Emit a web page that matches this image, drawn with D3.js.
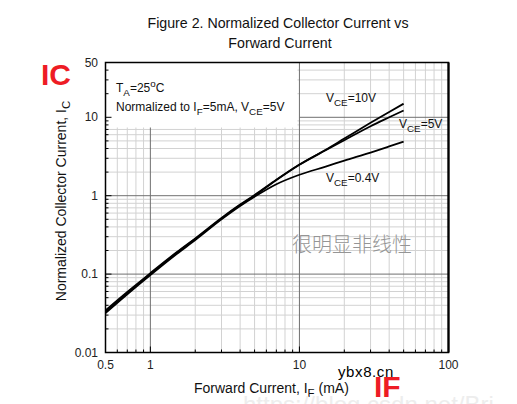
<!DOCTYPE html>
<html>
<head>
<meta charset="utf-8">
<script src="https://cdn.jsdelivr.net/npm/d3@7"></script>
<style>
  html, body { margin: 0; padding: 0; background: #fff; }
  svg { display: block; font-family: 'Liberation Sans', Arial, sans-serif; }
</style>
</head>
<body>
<svg id="chart" width="517" height="404"></svg>
<script>
// forward current IF (mA)
const current = [0.5, 0.7, 1, 1.5, 2, 3, 4, 5, 7, 10, 15, 20, 30, 40, 50];
// normalized collector current, one array per VCE
const vce10 = [0.0343, 0.059, 0.103, 0.19, 0.285, 0.52, 0.77, 1.02, 1.6, 2.5, 3.85, 5.35, 8.5, 11.7, 14.9];
const vce5 = [0.033, 0.057, 0.1, 0.186, 0.28, 0.51, 0.76, 1.0, 1.58, 2.48, 3.8, 5.1, 7.7, 10.0, 12.2];
const vce04 = [0.0318, 0.0552, 0.097, 0.18, 0.272, 0.5, 0.74, 0.97, 1.4, 1.85, 2.35, 2.8, 3.55, 4.25, 4.9];

const xTicks = [0.5, 1, 10, 100];
const xTickLabels = ['0.5', '1', '10', '100'];
const yTicks = [0.01, 0.1, 1, 10, 50];
const yTickLabels = ['0.01', '0.1', '1', '10', '50'];

const svg = d3.select('#chart');

const plotLeft = 105.5, plotRight = 448.5, plotTop = 62.5, plotBottom = 352.5;
const x = d3.scaleLog().domain([0.5, 100]).range([plotLeft, plotRight]);
const y = d3.scaleLog().domain([0.01, 50]).range([plotBottom, plotTop]);

// grid values
const xMinor = [], yMinor = [];
[0.1, 1, 10].forEach(d => {
  for (let k = 2; k <= 9; k++) {
    const v = +(d * k).toFixed(3);
    if (v > 0.5 && v < 100 && v !== 1 && v !== 10) xMinor.push(v);
  }
});
[0.01, 0.1, 1, 10].forEach(d => {
  for (let k = 2; k <= 9; k++) {
    const v = +(d * k).toFixed(3);
    if (v < 50) yMinor.push(v);
  }
});
const xMajor = [1, 10];
const yMajor = [0.1, 1, 10];

const grid = svg.append('g');
grid.selectAll('.vx')
  .data(xMinor)
  .enter()
  .append('line')
  .attr('x1', d => x(d)).attr('x2', d => x(d))
  .attr('y1', plotTop).attr('y2', plotBottom)
  .attr('stroke', '#d2d2d2').attr('stroke-width', 1);
grid.selectAll('.hy')
  .data(yMinor)
  .enter()
  .append('line')
  .attr('x1', plotLeft).attr('x2', plotRight)
  .attr('y1', d => y(d)).attr('y2', d => y(d))
  .attr('stroke', '#d2d2d2').attr('stroke-width', 1);

// white box behind the notes (grid is hidden there)
svg.append('rect')
  .attr('x', plotLeft)
  .attr('y', plotTop)
  .attr('width', x(10) - plotLeft - 2)
  .attr('height', 65)
  .attr('fill', '#fff');

svg.selectAll('.vmaj')
  .data(xMajor)
  .enter()
  .append('line')
  .attr('x1', d => x(d)).attr('x2', d => x(d))
  .attr('y1', d => (d === 1 ? plotTop + 65 : plotTop)).attr('y2', plotBottom)
  .attr('stroke', '#707070').attr('stroke-width', 1);
svg.selectAll('.hmaj')
  .data(yMajor)
  .enter()
  .append('line')
  .attr('x1', d => (d === 10 ? x(10) : plotLeft)).attr('x2', plotRight)
  .attr('y1', d => y(d)).attr('y2', d => y(d))
  .attr('stroke', '#707070').attr('stroke-width', 1);

// inward ticks on left and bottom axes
svg.selectAll('.ty')
  .data(yMinor.concat(yTicks))
  .enter()
  .append('line')
  .attr('x1', plotLeft).attr('x2', d => plotLeft + (yTicks.includes(d) ? 6 : 3))
  .attr('y1', d => y(d)).attr('y2', d => y(d))
  .attr('stroke', '#000').attr('stroke-width', 1);
svg.selectAll('.tx')
  .data(xMinor.concat(xTicks))
  .enter()
  .append('line')
  .attr('x1', d => x(d)).attr('x2', d => x(d))
  .attr('y1', plotBottom).attr('y2', d => plotBottom - (xTicks.includes(d) ? 6 : 3))
  .attr('stroke', '#000').attr('stroke-width', 1);

// frame
svg.append('rect')
  .attr('x', plotLeft).attr('y', plotTop)
  .attr('width', plotRight - plotLeft).attr('height', plotBottom - plotTop)
  .attr('fill', 'none').attr('stroke', '#000').attr('stroke-width', 1.5);
svg.append('line')
  .attr('x1', plotRight).attr('x2', plotRight).attr('y1', plotTop).attr('y2', plotBottom)
  .attr('stroke', '#000').attr('stroke-width', 2.2);

// tick labels
svg.selectAll('.xl')
  .data(xTicks)
  .enter()
  .append('text')
  .attr('x', d => x(d))
  .attr('y', 369)
  .attr('text-anchor', 'middle')
  .attr('font-size', 12)
  .attr('fill', '#222')
  .text((d, i) => xTickLabels[i]);
svg.selectAll('.yl')
  .data(yTicks)
  .enter()
  .append('text')
  .attr('x', 98)
  .attr('y', d => y(d) + 4)
  .attr('text-anchor', 'end')
  .attr('font-size', 12)
  .attr('fill', '#222')
  .text((d, i) => yTickLabels[i]);

// curves
const line = d3.line()
  .x((d, i) => x(current[i]))
  .y(d => y(d))
  .curve(d3.curveMonotoneX);

[vce10, vce5, vce04].forEach(series => {
  svg.append('path')
    .datum(series)
    .attr('d', line)
    .attr('fill', 'none')
    .attr('stroke', '#000')
    .attr('stroke-width', 1.8);
});

// helper for text with subscripts / superscripts
function richText(g, px, py, parts, size) {
  const t = g.append('text')
    .attr('x', px).attr('y', py)
    .attr('font-size', size)
    .attr('fill', '#111');
  let shift = 0;
  parts.forEach(p => {
    const want = p.sub ? size * 0.3 : p.sup ? -size * 0.4 : 0;
    t.append('tspan')
      .attr('dy', want - shift)
      .attr('font-size', p.sub || p.sup ? size * 0.82 : size)
      .text(p.t);
    shift = want;
  });
  return t;
}

// title
svg.append('text')
  .attr('x', 278).attr('y', 28)
  .attr('text-anchor', 'middle')
  .attr('font-size', 14.2)
  .attr('fill', '#111')
  .text('Figure 2. Normalized Collector Current vs');
svg.append('text')
  .attr('x', 280).attr('y', 48)
  .attr('text-anchor', 'middle')
  .attr('font-size', 14.2)
  .attr('fill', '#111')
  .text('Forward Current');

// notes
richText(svg, 116, 92, [{ t: 'T' }, { t: 'A', sub: true }, { t: '=25' }, { t: 'o', sup: true }, { t: 'C' }], 12);
richText(svg, 116, 111, [{ t: 'Normalized to I' }, { t: 'F', sub: true }, { t: '=5mA, V' }, { t: 'CE', sub: true }, { t: '=5V' }], 12);

// series labels
richText(svg, 326, 102, [{ t: 'V' }, { t: 'CE', sub: true }, { t: '=10V' }], 12);
richText(svg, 399, 128, [{ t: 'V' }, { t: 'CE', sub: true }, { t: '=5V' }], 12);
richText(svg, 326, 182, [{ t: 'V' }, { t: 'CE', sub: true }, { t: '=0.4V' }], 12);

// axis titles
richText(svg, 194, 393, [{ t: 'Forward Current, I' }, { t: 'F', sub: true }, { t: ' (mA)' }], 14);
const yTitle = svg.append('g').attr('transform', 'translate(66,201) rotate(-90)');
richText(yTitle, 0, 0, [{ t: 'Normalized Collector Current, I' }, { t: 'C', sub: true }], 14)
  .attr('text-anchor', 'middle');

// annotations added on the picture
svg.append('text')
  .attr('x', 292).attr('y', 252)
  .attr('font-size', 20)
  .attr('font-family', "'Noto Sans CJK SC', sans-serif")
  .attr('font-weight', 300)
  .attr('fill', '#959595')
  .text('很明显非线性');

svg.append('text')
  .attr('x', 243).attr('y', 413)
  .attr('font-size', 24)
  .attr('fill', '#ededed')
  .text('https://blog.csdn.net/Bri');

svg.append('text')
  .attr('x', 338).attr('y', 377)
  .attr('font-size', 15)
  .attr('letter-spacing', 0.6)
  .attr('fill', '#000')
  .text('ybx8.cn');

svg.append('text')
  .attr('x', 41).attr('y', 85)
  .attr('font-size', 30)
  .attr('font-weight', 'bold')
  .attr('font-family', "'Liberation Sans', Arial, sans-serif")
  .attr('fill', '#ee1c25')
  .text('IC');
svg.append('text')
  .attr('x', 374).attr('y', 397)
  .attr('font-size', 30)
  .attr('font-weight', 'bold')
  .attr('font-family', "'Liberation Sans', Arial, sans-serif")
  .attr('fill', '#ee1c25')
  .text('IF');
</script>
</body>
</html>
